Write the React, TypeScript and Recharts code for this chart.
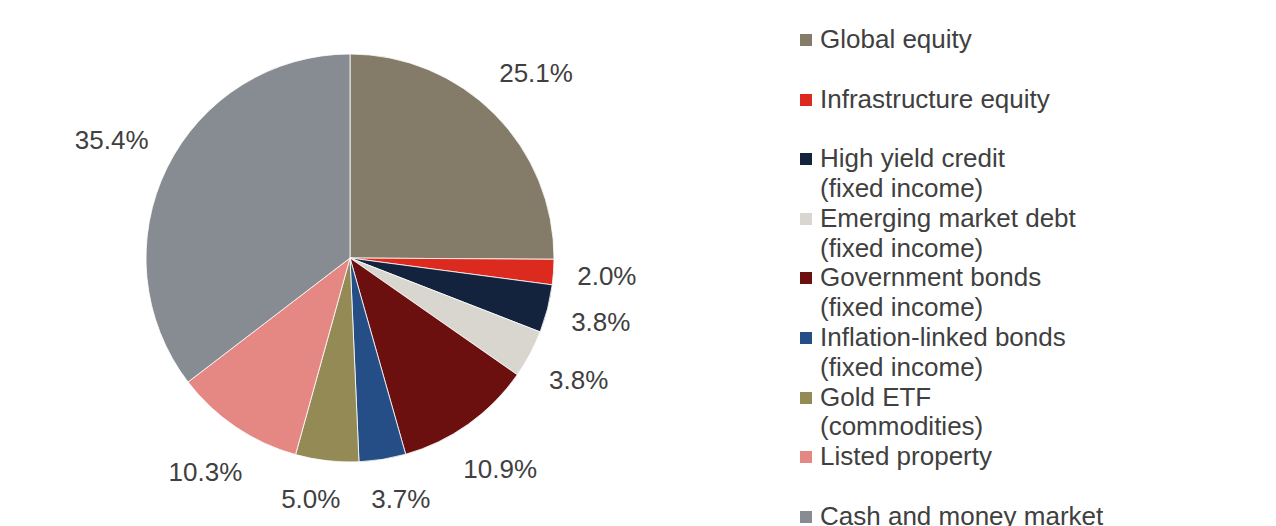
import React from 'react';
import { PieChart, Pie, Cell, Legend } from 'recharts';

const categories = [
  'Global equity',
  'Infrastructure equity',
  'High yield credit\n(fixed income)',
  'Emerging market debt\n(fixed income)',
  'Government bonds\n(fixed income)',
  'Inflation-linked bonds\n(fixed income)',
  'Gold ETF\n(commodities)',
  'Listed property',
  'Cash and money market',
];
const weights = [25.1, 2.0, 3.8, 3.8, 10.9, 3.7, 5.0, 10.3, 35.4];
const colors = [
  '#847c68',
  '#dc2a1f',
  '#13233e',
  '#d9d6cf',
  '#6b100e',
  '#264e86',
  '#938a55',
  '#e58884',
  '#878b92',
];

const data = categories.map((name, i) => ({ name, value: weights[i] }));

const FONT = '"Liberation Sans", Arial, sans-serif';
const TEXT = '#404040';
const RADIAN = Math.PI / 180;
const LABEL_SIZE = 26;
const LABEL_GAP = 23;
const OUTER_R = 204;

// rough Arial advance widths, enough to keep the label box clear of the pie
const charWidth = (ch: string) => (ch === '.' ? 0.278 : ch === '%' ? 0.889 : 0.556);
const labelText = (v: number) => `${v.toFixed(1)}%`;
const halfWidth = (t: string) => (t.split('').reduce((s, c) => s + charWidth(c), 0) * LABEL_SIZE) / 2;
const halfH = LABEL_SIZE / 2;

const labelPos = (angle: number, hw: number) => {
  const ux = Math.cos(-angle * RADIAN);
  const uy = Math.sin(-angle * RADIAN);
  const r = OUTER_R + LABEL_GAP + Math.abs(ux) * hw + Math.abs(uy) * halfH;
  return { x: r * ux, y: r * uy };
};

// spread neighbouring labels apart when their boxes would collide
const labelShift = (() => {
  const total = weights.reduce((a, b) => a + b, 0);
  let acc = 0;
  const base = weights.map((w) => {
    const mid = 90 - (360 * (acc + w / 2)) / total;
    acc += w;
    return mid;
  });
  const ang = [...base];
  const hws = weights.map((w) => halfWidth(labelText(w)));
  for (let it = 0; it < 300; it++) {
    let moved = false;
    for (let i = 0; i < ang.length - 1; i++) {
      const a = labelPos(ang[i], hws[i]);
      const b = labelPos(ang[i + 1], hws[i + 1]);
      if (Math.abs(a.x - b.x) < hws[i] + hws[i + 1] + 30 && Math.abs(a.y - b.y) < 2 * halfH + 8) {
        ang[i] += 0.25;
        ang[i + 1] -= 0.25;
        moved = true;
      }
    }
    if (!moved) break;
  }
  return ang.map((a, i) => a - base[i]);
})();

const renderLabel = (props: any) => {
  const { cx, cy, midAngle, value, index } = props;
  const text = labelText(value);
  const p = labelPos(midAngle + (labelShift[index] || 0), halfWidth(text));
  return (
    <text
      x={cx + p.x}
      y={cy + p.y}
      fill={TEXT}
      fontSize={LABEL_SIZE}
      fontFamily={FONT}
      textAnchor="middle"
      dominantBaseline="central"
    >
      {text}
    </text>
  );
};

const LegendList = () => (
  <div style={{ fontFamily: FONT, fontSize: 26, color: TEXT, lineHeight: '29.8px' }}>
    {categories.map((c, i) => (
      <div key={c} style={{ position: 'relative', height: 59.6, paddingLeft: 20 }}>
        <span
          style={{
            position: 'absolute',
            left: 0,
            top: 9,
            width: 12,
            height: 12,
            background: colors[i],
          }}
        />
        {c.split('\n').map((line) => (
          <div key={line} style={{ whiteSpace: 'nowrap' }}>
            {line}
          </div>
        ))}
      </div>
    ))}
  </div>
);

const App: React.FC = () => {
  return (
    <div style={{ position: 'absolute', left: 0, top: 0, width: 1276, height: 526, background: '#fff', overflow: 'hidden' }}>
      <PieChart width={1276} height={526} margin={{ top: 0, right: 0, bottom: 0, left: 0 }}>
        <Pie
          data={data}
          dataKey="value"
          nameKey="name"
          cx={350}
          cy={258}
          outerRadius={OUTER_R}
          startAngle={90}
          endAngle={-270}
          stroke="#ffffff"
          strokeWidth={0.8}
          label={renderLabel}
          labelLine={false}
          isAnimationActive={false}
        >
          {data.map((d, i) => (
            <Cell key={d.name} fill={colors[i]} />
          ))}
        </Pie>
        <Legend
          content={<LegendList />}
          layout="vertical"
          wrapperStyle={{ position: 'absolute', left: 800, top: 25, width: 440 }}
        />
      </PieChart>
    </div>
  );
};

export default App;
